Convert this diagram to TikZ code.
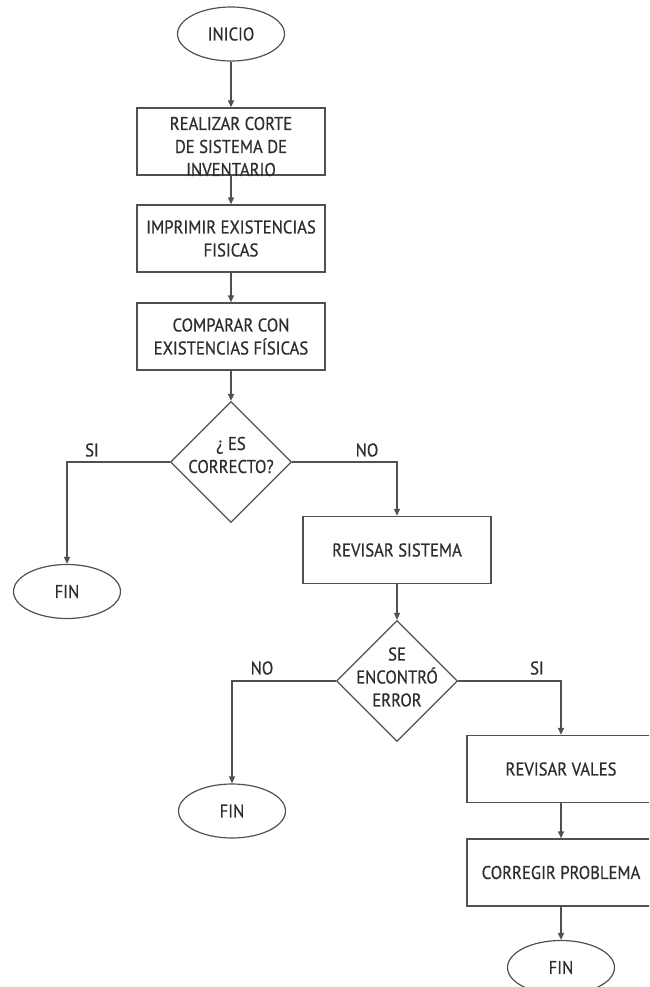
\documentclass[tikz,border=0pt]{standalone}
\usepackage{fontspec}
\setmainfont{PT Sans}[FakeStretch=0.9,FakeBold=0.6]
\usetikzlibrary{shapes.geometric,arrows.meta}

\definecolor{linegray}{RGB}{80,80,80}
\definecolor{textgray}{RGB}{45,45,45}

\begin{document}
\begin{tikzpicture}[x=1pt,y=-1pt,
  txt/.style={text=textgray, font=\fontsize{18.5}{23}\selectfont, align=center, inner sep=0pt},
  flow/.style={draw=linegray, line width=1.4pt, -{Triangle[length=7pt,width=6pt]}},
  box/.style={txt, draw=linegray, line width=1.4pt, rectangle,
              minimum width=188pt, minimum height=67pt},
  term/.style={txt, draw=linegray, line width=1.2pt, ellipse,
               minimum width=107pt, minimum height=54pt},
  decision/.style={draw=linegray, line width=1.2pt, diamond,
                   minimum width=121pt, minimum height=121pt, inner sep=0pt}]

\useasboundingbox (0,0) rectangle (649,987);
\clip (0,0) rectangle (649,987);

% main column
\node[term] (inicio) at (231,34) {INICIO};
\node[box] (b1) at (231,141.5) {};
\node[txt] (b1t) at (231,146.5) {REALIZAR CORTE\\DE SISTEMA DE\\INVENTARIO};
\node[box] (b2) at (231,238.5) {IMPRIMIR EXISTENCIAS\\FISICAS};
\node[box] (b3) at (231,336.5) {COMPARAR CON\\EXISTENCIAS FÍSICAS};
\node[decision] (d1) at (231,462) {};
\node[txt] (d1t) at (231,455) {¿ ES\\CORRECTO?};

% first branch
\node[term] (fin1) at (67,591.5) {FIN};
\node[box] (b4) at (397,550) {REVISAR SISTEMA};
\node[decision] (d2) at (397,681) {};
\node[txt] (d2t) at (397,677) {SE\\ENCONTRÓ\\ERROR};

% second branch
\node[term] (fin2) at (232,811) {FIN};
\node[box] (b5) at (561,769) {REVISAR VALES};
\node[box] (b6) at (561,872.5) {CORREGIR PROBLEMA};
\node[term] (fin3) at (561,967.5) {FIN};

% branch labels
\node[txt] (si1) at (92,450) {SI};
\node[txt] (no1) at (367,450) {NO};
\node[txt] (no2) at (262,668) {NO};
\node[txt] (si2) at (537,668) {SI};

% connectors
\draw[flow] (inicio) -- (b1);
\draw[flow] (b1) -- (b2);
\draw[flow] (b2) -- (b3);
\draw[flow] (b3) -- (d1);
\draw[flow] (d1.west) -| (fin1.north);
\draw[flow] (d1.east) -| (b4.north);
\draw[flow] (b4) -- (d2);
\draw[flow] (d2.west) -| (fin2.north);
\draw[flow] (d2.east) -| (b5.north);
\draw[flow] (b5) -- (b6);
\draw[flow] (b6) -- (fin3);
\end{tikzpicture}
\end{document}
